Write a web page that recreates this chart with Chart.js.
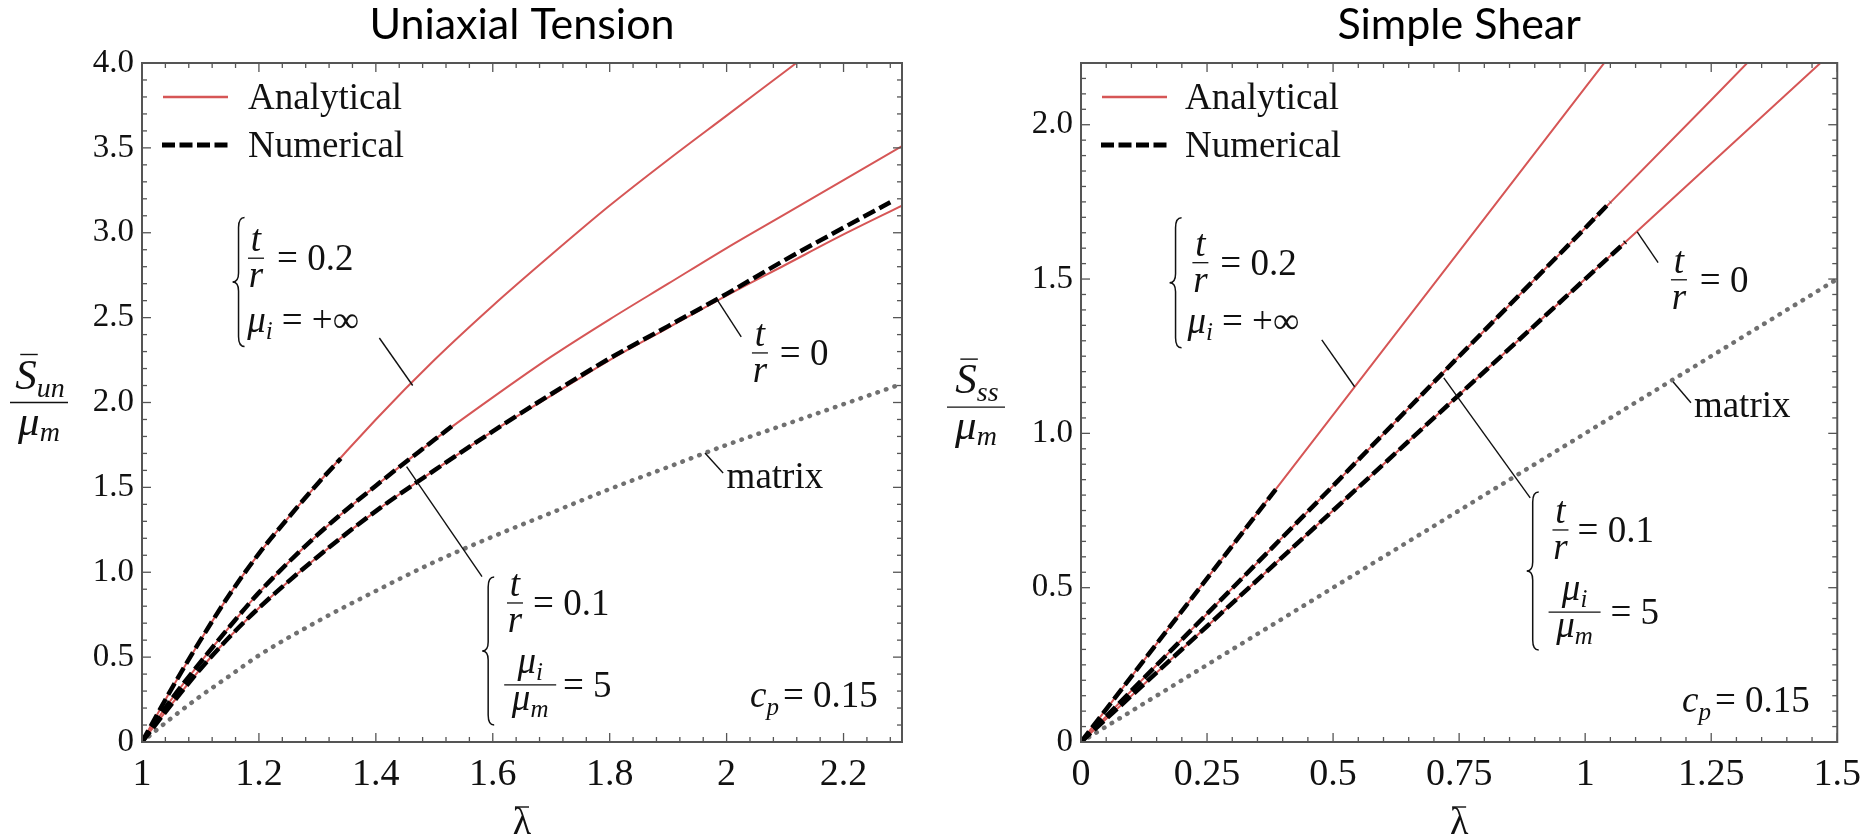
<!DOCTYPE html>
<html>
<head>
<meta charset="utf-8">
<script src="https://cdn.jsdelivr.net/npm/chart.js@4.4.1/dist/chart.umd.min.js"></script>
<style>
  html, body { margin: 0; padding: 0; background: #fff; }
  #wrap { position: relative; width: 1871px; height: 839px; overflow: hidden; }
  canvas { position: absolute; top: 0; }
  #c1 { left: 0; }
  #c2 { left: 940px; }
</style>
</head>
<body>
<div id="wrap">
  <canvas id="c1" width="940" height="839"></canvas>
  <canvas id="c2" width="931" height="839"></canvas>
</div>
<script>
// ---- uniaxial tension ----
const utLambda = [1, 1.05, 1.1, 1.15, 1.2, 1.3, 1.4, 1.5, 1.6, 1.7, 1.8, 1.9, 2.0, 2.1, 2.2, 2.3];
const utMatrix = [0, 0.14, 0.27, 0.39, 0.51, 0.71, 0.89, 1.06, 1.21, 1.35, 1.49, 1.62, 1.75, 1.87, 1.99, 2.11];
const utAnaT0  = [0, 0.22, 0.43, 0.62, 0.79, 1.09, 1.36, 1.60, 1.83, 2.04, 2.25, 2.44, 2.63, 2.81, 2.99, 3.16];
const utAnaT01 = [0, 0.25, 0.47, 0.68, 0.88, 1.22, 1.51, 1.78, 2.03, 2.27, 2.49, 2.70, 2.91, 3.11, 3.31, 3.51];
const utAnaT02 = [0, 0.31, 0.60, 0.87, 1.11, 1.52, 1.90, 2.25, 2.57, 2.87, 3.16, 3.43, 3.69, 3.95, 4.21];
const utNumT02Lambda = [1, 1.05, 1.1, 1.15, 1.2, 1.25, 1.3, 1.34];
const utNumT02 = [0, 0.31, 0.60, 0.87, 1.11, 1.32, 1.52, 1.67];
const utNumT01Lambda = [1, 1.05, 1.1, 1.15, 1.2, 1.3, 1.4, 1.5, 1.53];
const utNumT01 = [0, 0.25, 0.47, 0.68, 0.88, 1.22, 1.51, 1.78, 1.86];
const utNumT0Lambda = [1, 1.05, 1.1, 1.15, 1.2, 1.3, 1.4, 1.5, 1.6, 1.7, 1.8, 1.9, 2.0, 2.1, 2.2, 2.28];
const utNumT0 = [0, 0.22, 0.43, 0.62, 0.79, 1.09, 1.36, 1.60, 1.83, 2.05, 2.26, 2.45, 2.64, 2.84, 3.03, 3.18];

const utXTicks = [1, 1.2, 1.4, 1.6, 1.8, 2, 2.2];
const utXLabels = ['1', '1.2', '1.4', '1.6', '1.8', '2', '2.2'];
const utYTicks = [0, 0.5, 1, 1.5, 2, 2.5, 3, 3.5, 4];
const utYLabels = ['0', '0.5', '1.0', '1.5', '2.0', '2.5', '3.0', '3.5', '4.0'];

// ---- simple shear ----
const ssGamma  = [0, 0.25, 0.5, 0.75, 1, 1.25, 1.5];
const ssMatrix = [0, 0.25, 0.5, 0.75, 1.0, 1.25, 1.5];
const ssAnaT0  = [0, 0.375, 0.75, 1.125, 1.5, 1.875, 2.25];
const ssAnaT01 = [0, 0.415, 0.83, 1.25, 1.665, 2.08, 2.5];
const ssAnaT02 = [0, 0.53, 1.06, 1.59, 2.12, 2.65];
const ssNumT02Gamma = [0, 0.2, 0.39];
const ssNumT02 = [0, 0.424, 0.826];
const ssNumT01Gamma = [0, 0.25, 0.5, 0.75, 1, 1.05];
const ssNumT01 = [0, 0.415, 0.83, 1.25, 1.665, 1.75];
const ssNumT0Gamma = [0, 0.25, 0.5, 0.75, 1, 1.08];
const ssNumT0 = [0, 0.375, 0.75, 1.125, 1.5, 1.62];

const ssXTicks = [0, 0.25, 0.5, 0.75, 1, 1.25, 1.5];
const ssXLabels = ['0', '0.25', '0.5', '0.75', '1', '1.25', '1.5'];
const ssYTicks = [0, 0.5, 1, 1.5, 2];
const ssYLabels = ['0', '0.5', '1.0', '1.5', '2.0'];

const RED = 'rgb(214,86,86)';
const FRAME = '#555';
const SERIF = '"Liberation Serif", "Times New Roman", serif';
const DASH = [13, 5];

function pts(xs, ys) { return ys.map((y, i) => ({ x: xs[i], y: y })); }
function font(size, italic) { return (italic ? 'italic ' : '') + size + 'px ' + SERIF; }

function analytical(xs, ys, smooth) {
  return { data: pts(xs, ys), borderColor: RED, borderWidth: 2, pointRadius: 0, fill: false,
    cubicInterpolationMode: smooth ? 'monotone' : 'default', tension: 0, order: 3 };
}
function numerical(xs, ys, smooth) {
  return { data: pts(xs, ys), borderColor: '#000', borderWidth: 4.5, borderDash: DASH, pointRadius: 0, fill: false,
    cubicInterpolationMode: smooth ? 'monotone' : 'default', tension: 0, order: 1 };
}
function matrixLine(xs, ys, smooth) {
  return { data: pts(xs, ys), borderColor: '#707070', borderWidth: 4.5, borderDash: [0.5, 8.5], borderCapStyle: 'round',
    pointRadius: 0, fill: false, cubicInterpolationMode: smooth ? 'monotone' : 'default', tension: 0, order: 2 };
}

// little drawing helpers for the notes
function seg(ctx, x1, y1, x2, y2) { ctx.beginPath(); ctx.moveTo(x1, y1); ctx.lineTo(x2, y2); ctx.stroke(); }
function run(ctx, x, y, parts) {
  parts.forEach(p => {
    ctx.font = font(p[1], p[2]);
    ctx.fillText(p[0], x, y + (p[3] || 0));
    x += ctx.measureText(p[0]).width + (p[4] || 0);
  });
  return x;
}
function runWidth(ctx, parts) {
  let w = 0;
  parts.forEach(p => { ctx.font = font(p[1], p[2]); w += ctx.measureText(p[0]).width + (p[4] || 0); });
  return w;
}
function fracTR(ctx, cx, yb) {
  ctx.font = font(37, true);
  ctx.textAlign = 'center';
  ctx.fillText('t', cx, yb - 7);
  ctx.fillText('r', cx, yb + 29);
  ctx.textAlign = 'left';
  ctx.lineWidth = 1.3;
  seg(ctx, cx - 8, yb, cx + 8, yb);
}
function fracMu(ctx, cx, yb, w) {
  const top = [['μ', 37, true], ['i', 25, true, 7]];
  const bot = [['μ', 37, true], ['m', 25, true, 7]];
  run(ctx, cx - runWidth(ctx, top) / 2, yb - 12, top);
  run(ctx, cx - runWidth(ctx, bot) / 2, yb + 25, bot);
  ctx.lineWidth = 1.3;
  seg(ctx, cx - w / 2, yb, cx + w / 2, yb);
}
function brace(ctx, x, y1, y2) {
  const ym = (y1 + y2) / 2;
  ctx.lineWidth = 1.5;
  ctx.beginPath();
  ctx.moveTo(x + 9, y1);
  ctx.quadraticCurveTo(x + 3, y1, x + 3, y1 + 10);
  ctx.lineTo(x + 3, ym - 9);
  ctx.quadraticCurveTo(x + 3, ym, x - 3, ym);
  ctx.quadraticCurveTo(x + 3, ym, x + 3, ym + 9);
  ctx.lineTo(x + 3, y2 - 10);
  ctx.quadraticCurveTo(x + 3, y2, x + 9, y2);
  ctx.stroke();
}
function yTitle(ctx, cx, yb, sub) {
  const num = [['S', 43, true], [sub, 28, true, 8]];
  const nw = runWidth(ctx, num);
  const nx = cx - nw / 2 + 1;
  run(ctx, nx, yb - 14, num);
  ctx.font = font(43, true);
  const sw = ctx.measureText('S').width;
  ctx.lineWidth = 1.4;
  seg(ctx, nx + 5, yb - 48, nx + sw + 1, yb - 48);
  const den = [['μ', 43, true], ['m', 28, true, 6]];
  run(ctx, cx - runWidth(ctx, den) / 2, yb + 32, den);
  seg(ctx, cx - 29, yb, cx + 29, yb);
}

function makeDeco(spec) {
  return {
    id: 'deco_' + spec.id,
    afterDraw(chart) {
      const ctx = chart.ctx, a = chart.chartArea;
      const sx = chart.scales.x, sy = chart.scales.y;
      const X = v => sx.getPixelForValue(v), Y = v => sy.getPixelForValue(v);
      ctx.save();

      // inward ticks on all four sides
      ctx.strokeStyle = FRAME;
      ctx.lineWidth = 1.3;
      const nx = Math.round((spec.xMax - spec.xMin) / spec.xMinor);
      for (let i = 0; i <= nx; i++) {
        const v = spec.xMin + i * spec.xMinor;
        const major = spec.xTicks.some(t => Math.abs(t - v) < 1e-6);
        const len = major ? 9 : 5, px = X(v);
        seg(ctx, px, a.bottom, px, a.bottom - len);
        seg(ctx, px, a.top, px, a.top + len);
      }
      const ny = Math.round((spec.yMax - spec.yMin) / spec.yMinor);
      for (let i = 0; i <= ny; i++) {
        const v = spec.yMin + i * spec.yMinor;
        const major = spec.yTicks.some(t => Math.abs(t - v) < 1e-6);
        const len = major ? 9 : 5, py = Y(v);
        seg(ctx, a.left, py, a.left + len, py);
        seg(ctx, a.right, py, a.right - len, py);
      }
      // frame
      ctx.lineWidth = 2;
      ctx.strokeRect(a.left, a.top, a.right - a.left, a.bottom - a.top);

      // title
      ctx.fillStyle = '#000';
      ctx.font = '43px Lato, "Open Sans", sans-serif';
      ctx.textAlign = 'center';
      ctx.fillText(spec.title, (a.left + a.right) / 2, 39);

      // x axis title
      ctx.fillStyle = '#111';
      ctx.strokeStyle = '#111';
      ctx.font = font(38, false);
      const cx = (a.left + a.right) / 2;
      ctx.fillText('λ', cx, 834);
      ctx.lineWidth = 1.4;
      seg(ctx, cx - 7, 807, cx + 7, 807);
      ctx.textAlign = 'left';

      // y axis title
      yTitle(ctx, spec.yTitleX, Y(spec.yTitleAt), spec.yTitleSub);

      // legend
      const ly1 = a.top + 34, ly2 = a.top + 82;
      ctx.strokeStyle = RED; ctx.lineWidth = 2.5;
      seg(ctx, a.left + 21, ly1, a.left + 86, ly1);
      ctx.strokeStyle = '#000'; ctx.lineWidth = 5; ctx.setLineDash([13, 4.5]);
      seg(ctx, a.left + 20, ly2, a.left + 86, ly2);
      ctx.setLineDash([]);
      ctx.font = font(37, false);
      ctx.fillText('Analytical', a.left + spec.legendText, ly1 + 12);
      ctx.fillText('Numerical', a.left + spec.legendText, ly2 + 12);

      // notes
      ctx.strokeStyle = '#111';
      spec.notes(ctx, X, Y);
      ctx.restore();
    }
  };
}

function makeChart(spec) {
  const el = document.getElementById(spec.id);
  return new Chart(el, {
    type: 'line',
    data: { datasets: spec.datasets },
    options: {
      responsive: false,
      animation: false,
      devicePixelRatio: 1,
      layout: { padding: { left: 0, top: 63, right: spec.padRight, bottom: 0 } },
      plugins: { legend: { display: false }, tooltip: { enabled: false } },
      scales: {
        x: {
          type: 'linear', min: spec.xMin, max: spec.xMax,
          grid: { display: false, drawTicks: false },
          border: { display: false },
          ticks: { font: { family: SERIF, size: 38 }, color: '#111', padding: 10, maxRotation: 0, autoSkip: false,
            callback: (v, i) => spec.xLabels[i] },
          afterBuildTicks: s => { s.ticks = spec.xTicks.map(v => ({ value: v })); },
          afterFit: s => { s.height = 97; }
        },
        y: {
          type: 'linear', min: spec.yMin, max: spec.yMax,
          grid: { display: false, drawTicks: false },
          border: { display: false },
          ticks: { font: { family: SERIF, size: 33 }, color: '#111', padding: 8, autoSkip: false,
            callback: (v, i) => spec.yLabels[i] },
          afterBuildTicks: s => { s.ticks = spec.yTicks.map(v => ({ value: v })); },
          afterFit: s => { s.width = spec.yAxisWidth; }
        }
      }
    },
    plugins: [makeDeco(spec)]
  });
}

makeChart({
  id: 'c1', title: 'Uniaxial Tension',
  xMin: 1, xMax: 2.3, yMin: 0, yMax: 4, xMinor: 0.04, yMinor: 0.1,
  xTicks: utXTicks, xLabels: utXLabels, yTicks: utYTicks, yLabels: utYLabels,
  yAxisWidth: 142, padRight: 38, legendText: 106,
  yTitleX: 39, yTitleAt: 2.0, yTitleSub: 'un',
  datasets: [
    numerical(utNumT02Lambda, utNumT02, true),
    numerical(utNumT01Lambda, utNumT01, true),
    numerical(utNumT0Lambda, utNumT0, true),
    matrixLine(utLambda, utMatrix, true),
    analytical(utLambda, utAnaT02, true),
    analytical(utLambda, utAnaT01, true),
    analytical(utLambda, utAnaT0, true)
  ],
  notes: (ctx, X, Y) => {
    // t/r = 0.2, mu_i = +inf
    brace(ctx, X(1.160), Y(3.09), Y(2.33));
    fracTR(ctx, X(1.195), Y(2.85));
    run(ctx, X(1.231), Y(2.85) + 12, [['= 0.2', 37, false]]);
    run(ctx, X(1.18), Y(2.415), [['μ', 37, true], ['i', 25, true, 7, 9], ['= +∞', 37, false]]);
    ctx.lineWidth = 1.4;
    seg(ctx, X(1.406), Y(2.38), X(1.463), Y(2.10));
    // t/r = 0
    fracTR(ctx, X(2.057), Y(2.292));
    run(ctx, X(2.091), Y(2.292) + 12, [['= 0', 37, false]]);
    ctx.lineWidth = 1.4;
    seg(ctx, X(1.984), Y(2.604), X(2.025), Y(2.386));
    // matrix
    run(ctx, X(2.0), Y(1.496), [['matrix', 37, false]]);
    ctx.lineWidth = 1.4;
    seg(ctx, X(1.963), Y(1.702), X(1.994), Y(1.585));
    // t/r = 0.1, mu_i/mu_m = 5
    brace(ctx, X(1.587), Y(0.972), Y(0.100));
    fracTR(ctx, X(1.638), Y(0.819));
    run(ctx, X(1.669), Y(0.819) + 12, [['= 0.1', 37, false]]);
    fracMu(ctx, X(1.664), Y(0.336), 52);
    run(ctx, X(1.720), Y(0.336) + 12, [['= 5', 37, false]]);
    ctx.lineWidth = 1.4;
    seg(ctx, X(1.4526), Y(1.622), X(1.5816), Y(0.974));
    // c_p
    run(ctx, X(2.040), Y(0.206), [['c', 37, true], ['p', 25, true, 8, 4], ['= 0.15', 37, false]]);
  }
});

makeChart({
  id: 'c2', title: 'Simple Shear',
  xMin: 0, xMax: 1.5, yMin: 0, yMax: 2.2, xMinor: 0.05, yMinor: 0.05,
  xTicks: ssXTicks, xLabels: ssXLabels, yTicks: ssYTicks, yLabels: ssYLabels,
  yAxisWidth: 141, padRight: 29, legendText: 104,
  yTitleX: 36, yTitleAt: 1.085, yTitleSub: 'ss',
  datasets: [
    numerical(ssNumT02Gamma, ssNumT02, false),
    numerical(ssNumT01Gamma, ssNumT01, false),
    numerical(ssNumT0Gamma, ssNumT0, false),
    matrixLine(ssGamma, ssMatrix, false),
    analytical(ssGamma.slice(0, ssAnaT02.length), ssAnaT02, false),
    analytical(ssGamma, ssAnaT01, false),
    analytical(ssGamma, ssAnaT0, false)
  ],
  notes: (ctx, X, Y) => {
    brace(ctx, X(0.1816), Y(1.699), Y(1.277));
    fracTR(ctx, X(0.2368), Y(1.553));
    run(ctx, X(0.2763), Y(1.553) + 12, [['= 0.2', 37, false]]);
    run(ctx, X(0.2112), Y(1.326), [['μ', 37, true], ['i', 25, true, 7, 9], ['= +∞', 37, false]]);
    ctx.lineWidth = 1.4;
    seg(ctx, X(0.4776), Y(1.303), X(0.5427), Y(1.151));

    fracTR(ctx, X(1.186), Y(1.4976));
    run(ctx, X(1.2275), Y(1.4976) + 12, [['= 0', 37, false]]);
    ctx.lineWidth = 1.4;
    seg(ctx, X(1.1032), Y(1.653), X(1.1447), Y(1.553));

    run(ctx, X(1.2157), Y(1.0535), [['matrix', 37, false]]);
    ctx.lineWidth = 1.4;
    seg(ctx, X(1.1743), Y(1.167), X(1.2098), Y(1.099));

    brace(ctx, X(0.890), Y(0.810), Y(0.298));
    fracTR(ctx, X(0.951), Y(0.687));
    run(ctx, X(0.985), Y(0.687) + 12, [['= 0.1', 37, false]]);
    fracMu(ctx, X(0.979), Y(0.421), 52);
    run(ctx, X(1.050), Y(0.421) + 12, [['= 5', 37, false]]);
    ctx.lineWidth = 1.4;
    seg(ctx, X(0.7196), Y(1.180), X(0.891), Y(0.791));

    run(ctx, X(1.192), Y(0.097), [['c', 37, true], ['p', 25, true, 8, 4], ['= 0.15', 37, false]]);
  }
});
</script>
</body>
</html>
